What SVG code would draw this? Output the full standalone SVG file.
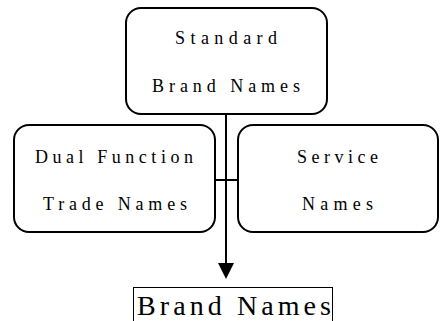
<svg xmlns="http://www.w3.org/2000/svg" width="440" height="321" viewBox="0 0 440 321">
<style>
.box{fill:#fff;stroke:#000;stroke-width:2}
.t{font-family:"Liberation Serif","Times New Roman",serif;font-size:18px;fill:#000}
.big{font-family:"Liberation Serif","Times New Roman",serif;font-size:28px;fill:#000}
.ln{stroke:#000;stroke-width:2;fill:none}
</style>
<defs>
<marker id="ah" markerWidth="16" markerHeight="16" refX="0" refY="8" orient="auto" markerUnits="userSpaceOnUse" viewBox="0 0 16 16">
<path d="M0,0 L16,8 L0,16 Z" fill="#000"/>
</marker>
</defs>
<rect width="440" height="321" fill="#fff"/>
<g id="connectors">
<line class="ln" x1="226" y1="114" x2="226" y2="263" marker-end="url(#ah)"/>
<line class="ln" x1="215" y1="180" x2="238" y2="180"/>
</g>
<g id="standard">
<rect class="box" x="126" y="8" width="201" height="106" rx="15"/>
<text class="t" x="175" y="44" textLength="102" lengthAdjust="spacing">Standard</text>
<text class="t" x="152" y="92" textLength="148" lengthAdjust="spacing">Brand Names</text>
</g>
<g id="dual">
<rect class="box" x="14" y="125" width="201" height="107" rx="15"/>
<text class="t" x="35" y="163" textLength="158" lengthAdjust="spacing">Dual Function</text>
<text class="t" x="43" y="210" textLength="144" lengthAdjust="spacing">Trade Names</text>
</g>
<g id="service">
<rect class="box" x="238" y="125" width="200" height="107" rx="15"/>
<text class="t" x="297" y="163" textLength="81" lengthAdjust="spacing">Service</text>
<text class="t" x="302" y="210" textLength="71" lengthAdjust="spacing">Names</text>
</g>
<g id="brand">
<rect x="133.5" y="287.5" width="199" height="40" fill="none" stroke="#000" stroke-width="1"/>
<text class="big" x="137" y="315" textLength="194" lengthAdjust="spacing">Brand Names</text>
</g>
</svg>
